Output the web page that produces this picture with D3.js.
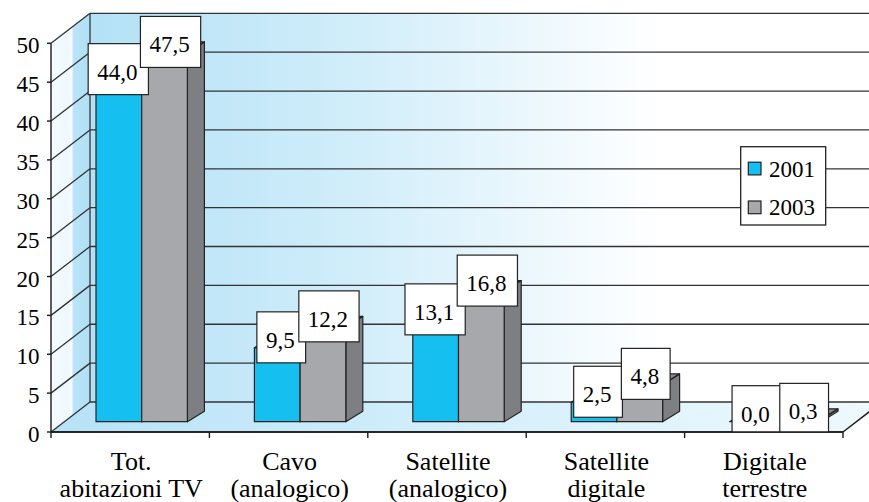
<!DOCTYPE html>
<html>
<head>
<meta charset="utf-8">
<script src="https://cdn.jsdelivr.net/npm/d3@7"></script>
<style>
  html, body { margin: 0; padding: 0; background: #ffffff; }
  svg { display: block; }
  text { font-family: "Liberation Serif", "Times New Roman", serif; fill: #000000; }
</style>
</head>
<body>
<svg id="chart" width="869" height="502"></svg>
<script>
// Households by TV reception type, 2001 vs 2003
const categories = [
  ["Tot.", "abitazioni TV"],
  ["Cavo", "(analogico)"],
  ["Satellite", "(analogico)"],
  ["Satellite", "digitale"],
  ["Digitale", "terrestre"]
];
const seriesNames = ["2001", "2003"];
const values2001 = [44.0, 9.5, 13.1, 2.5, 0.0];
const values2003 = [47.5, 12.2, 16.8, 4.8, 0.3];
const yTicks = [0, 5, 10, 15, 20, 25, 30, 35, 40, 45, 50];

const seriesValues = [values2001, values2003];
const seriesColors = {
  "2001": { front: "#15c0f0", side: "#0e92bb", top: "#0b8fb8" },
  "2003": { front: "#a7a8ac", side: "#7e7f83", top: "#8b8c90" }
};

const svg = d3.select("#chart");
const defs = svg.append("defs");

// geometry of the 3D frame
const xLeft = 51, xRight = 843;
const DX = 39, DY = -30;           // wall depth offset
const yF = d3.scaleLinear().domain([0, 50]).range([432, 43.3]);
const yBack = v => yF(v) + DY;
const cat = d3.scaleBand().domain(d3.range(categories.length)).range([xLeft, xRight]);
const ser = d3.scaleBand().domain(seriesNames).range([45, 45 + 91.4]);
const barBase = 421.7;             // bars stand a little inside the floor
const yBar = v => barBase - (yF(0) - yF(v));
const BDX = 17, BDY = -10.5;       // bar depth offset

const itLocale = d3.formatLocale({ decimal: ",", thousands: ".", grouping: [3], currency: ["", " €"] });
const fmt = itLocale.format(".1f");

// gradients
const gBack = defs.append("linearGradient").attr("id", "gBack")
  .attr("gradientUnits", "userSpaceOnUse").attr("x1", 90).attr("x2", 660).attr("y1", 0).attr("y2", 0);
gBack.append("stop").attr("offset", 0).attr("stop-color", "#b3e1f6");
gBack.append("stop").attr("offset", 0.45).attr("stop-color", "#d0edfa");
gBack.append("stop").attr("offset", 1).attr("stop-color", "#ffffff");

const gFloor = defs.append("linearGradient").attr("id", "gFloor")
  .attr("gradientUnits", "userSpaceOnUse").attr("x1", 51).attr("x2", 882).attr("y1", 0).attr("y2", 0);
gFloor.append("stop").attr("offset", 0).attr("stop-color", "#b6e2f7");
gFloor.append("stop").attr("offset", 0.5).attr("stop-color", "#d4effb");
gFloor.append("stop").attr("offset", 1).attr("stop-color", "#eff9fe");

const gSide = defs.append("linearGradient").attr("id", "gSide")
  .attr("gradientUnits", "userSpaceOnUse").attr("x1", 51).attr("x2", 90).attr("y1", 0).attr("y2", 0);
gSide.append("stop").attr("offset", 0).attr("stop-color", "#f4fbff");
gSide.append("stop").attr("offset", 0.48).attr("stop-color", "#eef8fe");
gSide.append("stop").attr("offset", 0.52).attr("stop-color", "#ffffff");
gSide.append("stop").attr("offset", 0.58).attr("stop-color", "#b9e4f8");
gSide.append("stop").attr("offset", 1).attr("stop-color", "#b0dff5");

defs.append("clipPath").attr("id", "plotClip")
  .append("rect").attr("x", 0).attr("y", 0).attr("width", 869).attr("height", 432);

const line = d3.line();
const poly = pts => line(pts) + "Z";

// walls and floor
svg.append("path").attr("d", poly([[90, yBack(50)], [900, yBack(50)], [900, yBack(0)], [90, yBack(0)]]))
  .attr("fill", "url(#gBack)");
svg.append("path").attr("d", poly([[xLeft, yF(50)], [xLeft + DX, yBack(50)], [xLeft + DX, yBack(0)], [xLeft, yF(0)]]))
  .attr("fill", "url(#gSide)");
svg.append("path").attr("d", poly([[xLeft, yF(0)], [xRight, yF(0)], [xRight + DX, yBack(0)], [xLeft + DX, yBack(0)]]))
  .attr("fill", "url(#gFloor)");

// gridlines on back wall and side wall
const grid = svg.append("g").attr("stroke", "#333").attr("stroke-width", 1.3).attr("fill", "none");
yTicks.forEach(v => {
  grid.append("line").attr("x1", xLeft + DX).attr("x2", 900).attr("y1", yBack(v)).attr("y2", yBack(v));
  grid.append("line").attr("x1", xLeft).attr("y1", yF(v)).attr("x2", xLeft + DX).attr("y2", yBack(v));
});
grid.append("line").attr("x1", xLeft + DX).attr("x2", xLeft + DX).attr("y1", yBack(50)).attr("y2", yBack(0));

// floor edges and axes
const axes = svg.append("g").attr("stroke", "#1a1a1a").attr("stroke-width", 1.4).attr("fill", "none");
axes.append("line").attr("x1", xLeft).attr("x2", xRight).attr("y1", yF(0)).attr("y2", yF(0));
axes.append("line").attr("x1", xRight).attr("y1", yF(0)).attr("x2", xRight + DX).attr("y2", yBack(0));
axes.append("line").attr("x1", xLeft).attr("x2", xLeft).attr("y1", yF(0)).attr("y2", yF(50));
yTicks.forEach(v => {
  axes.append("line").attr("x1", xLeft - 4).attr("x2", xLeft).attr("y1", yF(v)).attr("y2", yF(v));
});
d3.range(categories.length + 1).forEach(i => {
  const x = xLeft + i * cat.bandwidth();
  axes.append("line").attr("x1", x).attr("x2", x).attr("y1", yF(0)).attr("y2", yF(0) + 6);
});

// y tick labels
svg.append("g").selectAll("text").data(yTicks).join("text")
  .attr("x", 39.5).attr("y", d => yF(d) + 10)
  .attr("text-anchor", "end").attr("font-size", 23)
  .text(d => d);

// category labels
const catG = svg.append("g").selectAll("text").data(categories).join("text")
  .attr("text-anchor", "middle").attr("font-size", 26)
  .attr("transform", (d, i) => `translate(${cat(i) + cat.bandwidth() / 2 + 1},0)`);
catG.append("tspan").attr("x", 0).attr("y", 470).text(d => d[0]);
catG.append("tspan").attr("x", 0).attr("y", 497).text(d => d[1]);

// 3D bars
const bars = svg.append("g").attr("stroke", "#222").attr("stroke-width", 1.2).attr("stroke-linejoin", "round");
categories.forEach((c, i) => {
  seriesNames.forEach((s, j) => {
    const v = seriesValues[j][i];
    const x = cat(i) + ser(s), w = ser.bandwidth();
    const yt = yBar(v);
    const col = seriesColors[s];
    bars.append("path").attr("fill", col.side)
      .attr("d", poly([[x + w, barBase], [x + w + BDX, barBase + BDY], [x + w + BDX, yt + BDY], [x + w, yt]]));
    bars.append("path").attr("fill", col.top)
      .attr("d", poly([[x, yt], [x + w, yt], [x + w + BDX, yt + BDY], [x + BDX, yt + BDY]]));
    bars.append("rect").attr("fill", col.front)
      .attr("x", x).attr("y", yt).attr("width", w).attr("height", barBase - yt);
  });
});

// value labels in boxes; the first series' box is kept clear of its neighbour's
const labels = svg.append("g").attr("clip-path", "url(#plotClip)");
categories.forEach((c, i) => {
  let nextLeft = Infinity;
  const order = [1, 0];
  const built = [];
  order.forEach(j => {
    const s = seriesNames[j];
    const v = seriesValues[j][i];
    const cy = yBar(v) - 10.5;
    const g = labels.append("g");
    const box = g.append("rect");
    const t = g.append("text").attr("y", cy + 10.5)
      .attr("text-anchor", "middle").attr("font-size", 23).text(fmt(v));
    const tw = t.node().getComputedTextLength();
    const bw = tw + 20, bh = 51;
    let cx = cat(i) + ser(s) + ser.bandwidth() / 2 + (j === 0 ? 4 : 6);
    if (j === 0 && cx + bw / 2 > nextLeft + 8) cx = nextLeft + 8 - bw / 2;
    if (j === 1) nextLeft = cx - bw / 2;
    t.attr("x", cx - 1);
    box.attr("x", cx - bw / 2).attr("y", cy - bh / 2).attr("width", bw).attr("height", bh)
      .attr("fill", "#ffffff").attr("stroke", "#222").attr("stroke-width", 1.2);
    built.push(g);
  });
  // draw the second series' box above the first
  built[0].raise();
});
// floor front edge drawn over clipped boxes
svg.append("line").attr("x1", xLeft).attr("x2", xRight).attr("y1", yF(0)).attr("y2", yF(0))
  .attr("stroke", "#1a1a1a").attr("stroke-width", 1.4);

// legend
const legRows = [168.5, 207.3];
const leg = svg.append("g");
leg.append("rect").attr("x", 740.7).attr("y", 146.7).attr("width", 85).attr("height", 78.3)
  .attr("fill", "#ffffff").attr("stroke", "#222").attr("stroke-width", 1.3);
seriesNames.forEach((s, j) => {
  leg.append("rect").attr("x", 748.3).attr("y", legRows[j] - 6.3).attr("width", 12.7).attr("height", 12.7)
    .attr("fill", seriesColors[s].front).attr("stroke", "#222").attr("stroke-width", 1.2);
  leg.append("text").attr("x", 769).attr("y", legRows[j] + 8).attr("font-size", 23).text(s);
});
</script>
</body>
</html>
